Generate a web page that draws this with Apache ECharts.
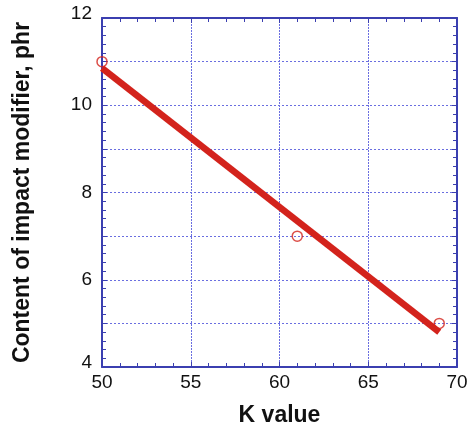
<!DOCTYPE html>
<html><head><meta charset="utf-8">
<script src="https://cdn.jsdelivr.net/npm/echarts@6/dist/echarts.min.js"></script>
<style>html,body{margin:0;padding:0;background:#fff}#c{width:468px;height:431px}</style>
</head><body><div id="c"></div>
<script>
var kValues = [50, 61, 69];
var modifierContent = [11, 7, 5];
var fitX = [50, 69];
var fitY = [10.85, 4.8];
var xTicks = [50, 55, 60, 65, 70];
var yTickLabels = [4, 6, 8, 10, 12];

var axisBlue = '#3b3fb0';
var gridBlue = '#6a6ee0';
var red = '#d3231c';
var font = 'Liberation Sans, Arial, sans-serif';

var chart = echarts.init(document.getElementById('c'));
function pairs(xs, ys){ return xs.map(function(x,i){ return [x, ys[i]]; }); }

chart.setOption({
  animation: false,
  grid: {left: 102, right: 11, top: 18, bottom: 64, containLabel: false, outerBoundsMode: 'none'},
  xAxis: [{
    type: 'value', min: xTicks[0], max: xTicks[xTicks.length-1], interval: 5,
    name: 'K value', nameLocation: 'middle', nameGap: 37,
    nameTextStyle: {fontFamily: font, fontSize: 23, fontWeight: 'bold', color: '#111'},
    axisLine: {show: true, lineStyle: {color: axisBlue, width: 2}},
    axisTick: {show: true, inside: true, length: 5, lineStyle: {color: axisBlue}},
    minorTick: {show: true, splitNumber: 5, length: 4, lineStyle: {color: axisBlue}},
    axisLabel: {fontFamily: font, fontSize: 19, color: '#111', margin: 6},
    splitLine: {show: true, lineStyle: {color: gridBlue, type: [2, 1], width: 1}}
  }, {
    type: 'value', position: 'top', min: 50, max: 70, interval: 5,
    axisLine: {show: true, lineStyle: {color: axisBlue, width: 2}},
    axisTick: {show: true, inside: true, length: 5, lineStyle: {color: axisBlue}},
    minorTick: {show: true, splitNumber: 5, length: 4, lineStyle: {color: axisBlue}},
    axisLabel: {show: false}, splitLine: {show: false}
  }],
  yAxis: [{
    type: 'value', min: 4, max: 12, interval: 1,
    name: 'Content of impact modifier, phr', nameLocation: 'middle', nameGap: 68,
    nameTextStyle: {fontFamily: font, fontSize: 23, fontWeight: 'bold', color: '#111'},
    axisLine: {show: true, lineStyle: {color: axisBlue, width: 2}},
    axisTick: {show: true, inside: true, length: 5, lineStyle: {color: axisBlue}},
    minorTick: {show: true, splitNumber: 5, length: 4, lineStyle: {color: axisBlue}},
    axisLabel: {fontFamily: font, fontSize: 19, color: '#111', margin: 10,
      formatter: function(v){
        if (yTickLabels.indexOf(v) < 0) return '';
        if (v === 4 || v === 12) return '{edge|' + v + '}';
        return String(v);
      },
      rich: {edge: {fontFamily: font, fontSize: 19, color: '#111', padding: [0, 0, 8, 0]}}
    },
    splitLine: {show: true, lineStyle: {color: gridBlue, type: [2, 2], width: 1}}
  }, {
    type: 'value', position: 'right', min: 4, max: 12, interval: 1,
    axisLine: {show: true, lineStyle: {color: axisBlue, width: 2}},
    axisTick: {show: true, inside: true, length: 5, lineStyle: {color: axisBlue}},
    minorTick: {show: true, splitNumber: 5, length: 4, lineStyle: {color: axisBlue}},
    axisLabel: {show: false}, splitLine: {show: false}
  }],
  series: [{
    type: 'line', data: pairs(fitX, fitY), showSymbol: false, symbol: 'none',
    lineStyle: {color: red, width: 6.5}, z: 3
  }, {
    type: 'scatter', data: pairs(kValues, modifierContent),
    symbol: 'circle', symbolSize: 10,
    itemStyle: {color: 'rgba(255,255,255,0)', borderColor: red, borderWidth: 1.5}, z: 4
  }]
});
</script></body></html>
